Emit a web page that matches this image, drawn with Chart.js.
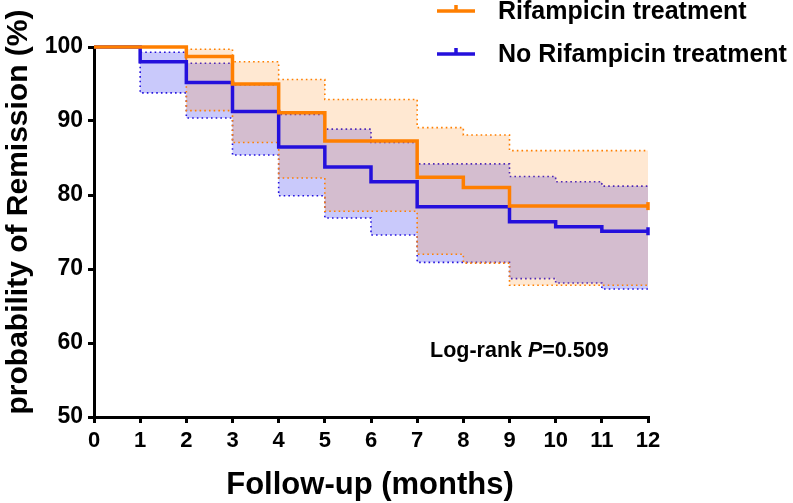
<!DOCTYPE html>
<html>
<head>
<meta charset="utf-8">
<script src="https://cdn.jsdelivr.net/npm/chart.js@4.4.0/dist/chart.umd.min.js"></script>
<style>
	body { margin: 0; background: #fff; }
	#chartContainer { width: 793px; height: 503px; }
</style>
</head>
<body>
<div id="chartContainer"><canvas id="kmChart" width="793" height="503"></canvas></div>
<script>
// months of follow-up; each value holds from that month until the next
const months = [0, 1, 2, 3, 4, 5, 6, 7, 8, 9, 10, 11, 12];

const groupNames = ['Rifampicin treatment', 'No Rifampicin treatment'];

const rifSurvival = [100, 100, 98.7, 95.0, 91.1, 87.3, 87.3, 82.4, 81.0, 78.5, 78.5, 78.5, 78.5];
const rifUpper    = [100, 100, 99.7, 98.0, 95.6, 92.9, 92.9, 89.1, 88.1, 86.0, 86.0, 86.0, 86.0];
const rifLower    = [100, 100, 91.4, 87.1, 82.3, 77.8, 77.8, 72.0, 70.8, 67.8, 67.8, 67.8, 67.8];

const noRifSurvival = [100, 98.0, 95.2, 91.3, 86.5, 83.8, 81.8, 78.4, 78.4, 76.4, 75.7, 75.1, 75.1];
const noRifUpper    = [100, 99.3, 97.8, 94.9, 90.9, 88.9, 87.1, 84.2, 84.2, 82.5, 81.8, 81.2, 81.2];
const noRifLower    = [100, 93.8, 90.4, 85.4, 79.9, 76.9, 74.6, 70.9, 70.9, 68.7, 68.1, 67.3, 67.3];

const yTicks = [50, 60, 70, 80, 90, 100];
const pValueText = '0.509';

const ORANGE = '#ff7f00';
const BLUE = '#2410dc';
const FONT = '"Liberation Sans", Arial, sans-serif';

function toPoints(values) {
	return months.map((m, i) => ({ x: m, y: values[i] }));
}

// small vertical censor tick only at the last point
const censorRadius = months.map((m, i) => (i === months.length - 1 ? 4 : 0));

function ciLine(values, color, order, fill, fillColor) {
	return {
		data: toPoints(values),
		stepped: 'before',
		borderColor: color,
		borderWidth: 1.6,
		borderDash: [1.6, 3.1],
		pointRadius: 0,
		fill: fill,
		backgroundColor: fillColor,
		order: order
	};
}

function survivalLine(label, values, color, order) {
	return {
		label: label,
		data: toPoints(values),
		stepped: 'before',
		borderColor: color,
		borderWidth: 3.5,
		pointRadius: censorRadius,
		pointStyle: 'line',
		rotation: 90,
		pointBorderColor: color,
		pointBorderWidth: 3.5,
		fill: false,
		clip: 8,
		order: order
	};
}

const annotate = {
	id: 'annotate',
	afterDraw(chart) {
		const ctx = chart.ctx;
		ctx.save();
		ctx.fillStyle = '#000';

		// legend
		const rows = [
			{ label: groupNames[0], color: ORANGE, y: 11 },
			{ label: groupNames[1], color: BLUE, y: 54 }
		];
		rows.forEach(r => {
			ctx.strokeStyle = r.color;
			ctx.lineWidth = 3.5;
			ctx.beginPath();
			ctx.moveTo(437, r.y);
			ctx.lineTo(475, r.y);
			ctx.moveTo(456, r.y);
			ctx.lineTo(456, r.y - 6);
			ctx.stroke();
			ctx.font = 'bold 25px ' + FONT;
			ctx.textBaseline = 'middle';
			ctx.textAlign = 'left';
			ctx.fillText(r.label, 498, r.y + 1);
		});

		// x title
		ctx.font = 'bold 31px ' + FONT;
		ctx.textAlign = 'center';
		ctx.textBaseline = 'alphabetic';
		ctx.fillText('Follow-up (months)', 370, 494);

		// y title
		ctx.save();
		ctx.translate(27, 212);
		ctx.rotate(-Math.PI / 2);
		ctx.font = 'bold 30px ' + FONT;
		ctx.fillText('probability of Remission (%)', 0, 0);
		ctx.restore();

		// log-rank annotation
		ctx.textAlign = 'left';
		ctx.textBaseline = 'alphabetic';
		let x = 430;
		const base = 357;
		ctx.font = 'bold 21.5px ' + FONT;
		ctx.fillText('Log-rank ', x, base);
		x += ctx.measureText('Log-rank ').width;
		ctx.font = 'italic bold 21.5px ' + FONT;
		ctx.fillText('P', x, base);
		x += ctx.measureText('P').width;
		ctx.font = 'bold 21.5px ' + FONT;
		ctx.fillText('=' + pValueText, x, base);

		ctx.restore();
	}
};

const ctx = document.getElementById('kmChart').getContext('2d');

new Chart(ctx, {
	type: 'line',
	data: {
		datasets: [
			survivalLine(groupNames[0], rifSurvival, ORANGE, 0),
			survivalLine(groupNames[1], noRifSurvival, BLUE, 1),
			ciLine(rifUpper, ORANGE, 2, '+1', 'rgba(255, 140, 30, 0.2)'),
			ciLine(rifLower, ORANGE, 3, false, 'transparent'),
			ciLine(noRifUpper, BLUE, 4, '+1', 'rgba(40, 40, 240, 0.25)'),
			ciLine(noRifLower, BLUE, 5, false, 'transparent')
		]
	},
	options: {
		responsive: false,
		animation: false,
		layout: { padding: { top: 47, right: 145, left: 0, bottom: 0 } },
		plugins: {
			legend: { display: false },
			tooltip: { enabled: false }
		},
		scales: {
			x: {
				type: 'linear',
				min: 0,
				max: 12,
				afterFit: s => { s.height = 86; },
				border: { display: true, color: '#000', width: 3 },
				grid: { drawOnChartArea: false, drawTicks: true, tickLength: 6, color: '#000', lineWidth: 3 },
				ticks: {
					stepSize: 1,
					color: '#000',
					padding: 5,
					font: { family: FONT, size: 22, weight: 'bold' }
				}
			},
			y: {
				min: 50,
				max: 100,
				afterFit: s => { s.width = 94; },
				afterBuildTicks: s => { s.ticks = yTicks.map(v => ({ value: v })); },
				border: { display: true, color: '#000', width: 3 },
				grid: { drawOnChartArea: false, drawTicks: true, tickLength: 6, color: '#000', lineWidth: 3 },
				ticks: {
					color: '#000',
					padding: 5,
					font: { family: FONT, size: 23, weight: 'bold' }
				}
			}
		}
	},
	plugins: [annotate]
});
</script>
</body>
</html>
